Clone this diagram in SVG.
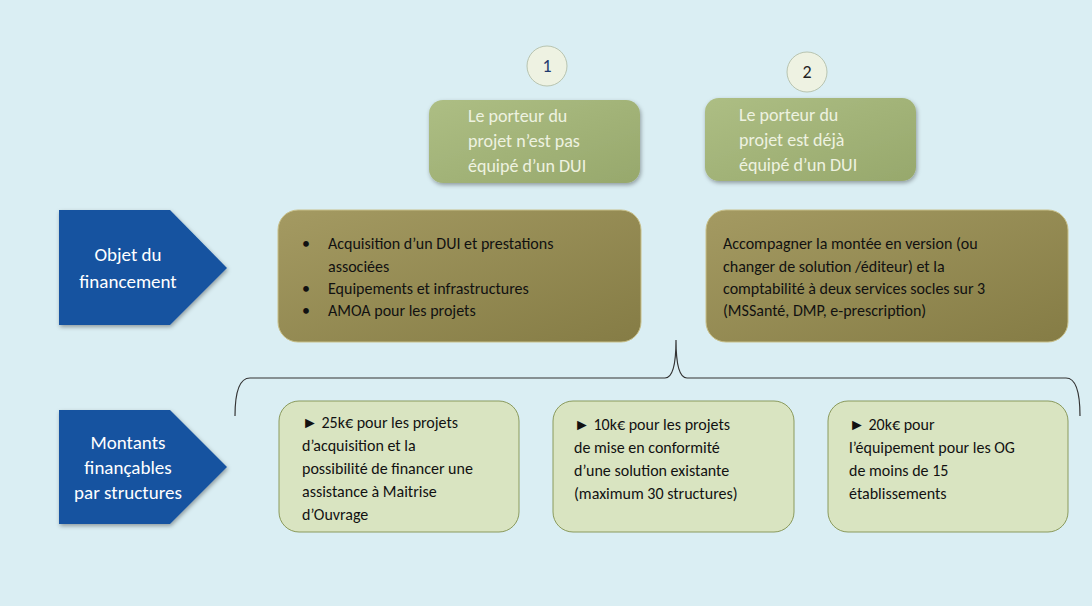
<svg xmlns="http://www.w3.org/2000/svg" width="1092" height="606" viewBox="0 0 1092 606">
<defs>
<linearGradient id="gOlive" x1="0" y1="0" x2="1" y2="1"><stop offset="0" stop-color="#a49a62"/><stop offset="1" stop-color="#857c45"/></linearGradient>
<linearGradient id="gGreen" x1="0" y1="0" x2="1" y2="1"><stop offset="0" stop-color="#adbe84"/><stop offset="1" stop-color="#97a86c"/></linearGradient>
<filter id="sh" x="-10%" y="-10%" width="120%" height="130%"><feDropShadow dx="1" dy="2" stdDeviation="2" flood-opacity="0.35"/></filter>
</defs>
<style>
text{font-family:Carlito,"Liberation Sans",sans-serif;}
.arrow{fill:#1352a0;filter:url(#sh);}
.at{fill:#fff;font-size:19px;text-anchor:middle;}
.top{fill:url(#gGreen);filter:url(#sh);}
.tt{fill:#eef2e0;font-size:18px;}
.ol{fill:url(#gOlive);stroke:#c8c08a;stroke-width:1;}
.ot{fill:#111;font-size:16px;}
.lt{fill:#d9e4c1;stroke:#8a9a5c;stroke-width:1;}
.circ{fill:#eef2e2;stroke:#b8c4b0;stroke-width:1;}
.num{font-size:18px;text-anchor:middle;}
</style>
<rect width="1092" height="606" fill="#daeef3"/>
<g id="connectors"><path d="M235,416 Q235,378 250,378 L665,378 Q676,378 676,340 Q676,378 687,378 L1066,378 Q1080,378 1080,416" fill="none" stroke="#333" stroke-width="1.2"/></g>
<g id="n1"><circle class="circ" cx="547" cy="66" r="20"/><text class="num" x="547" y="72" fill="#1f3a6e">1</text></g>
<g id="n2"><circle class="circ" cx="807" cy="72" r="20"/><text class="num" x="807" y="78" fill="#222">2</text></g>
<g id="top1"><rect class="top" x="429" y="100" width="211" height="83" rx="14"/>
<text class="tt" x="468" y="122">Le porteur du</text><text class="tt" x="468" y="147">projet n’est pas</text><text class="tt" x="468" y="172">équipé d’un DUI</text></g>
<g id="top2"><rect class="top" x="705" y="98" width="211" height="83" rx="14"/>
<text class="tt" x="739" y="121">Le porteur du</text><text class="tt" x="739" y="146">projet est déjà</text><text class="tt" x="739" y="171">équipé d’un DUI</text></g>
<g id="objet"><path class="arrow" d="M59,210 L170,210 L227,268 L170,325 L59,325 Z"/>
<text class="at" x="128" y="261">Objet du</text><text class="at" x="128" y="288">financement</text></g>
<g id="montants"><path class="arrow" d="M59,410 L170,410 L227,467 L170,524 L59,524 Z"/>
<text class="at" x="128" y="449">Montants</text><text class="at" x="128" y="474">finançables</text><text class="at" x="128" y="499">par structures</text></g>
<g id="ob1"><rect class="ol" x="278" y="210" width="363" height="132" rx="20"/>
<text class="ot" x="302" y="249">•</text><text class="ot" x="328" y="249">Acquisition d’un DUI et prestations</text>
<text class="ot" x="328" y="272">associées</text>
<text class="ot" x="302" y="294">•</text><text class="ot" x="328" y="294">Equipements et infrastructures</text>
<text class="ot" x="302" y="316">•</text><text class="ot" x="328" y="316">AMOA pour les projets</text></g>
<g id="ob2"><rect class="ol" x="706" y="210" width="362" height="132" rx="20"/>
<text class="ot" x="723" y="249">Accompagner la montée en version (ou</text>
<text class="ot" x="723" y="272">changer de solution /éditeur) et la</text>
<text class="ot" x="723" y="294">comptabilité à deux services socles sur 3</text>
<text class="ot" x="723" y="316">(MSSanté, DMP, e-prescription)</text></g>
<g id="m1"><rect class="lt" x="279" y="401" width="240" height="131" rx="20"/>
<text class="ot" x="302" y="428">► 25k€ pour les projets</text><text class="ot" x="302" y="451">d’acquisition et la</text>
<text class="ot" x="302" y="474">possibilité de financer une</text><text class="ot" x="302" y="497">assistance à Maitrise</text>
<text class="ot" x="302" y="520">d’Ouvrage</text></g>
<g id="m2"><rect class="lt" x="553" y="401" width="241" height="131" rx="20"/>
<text class="ot" x="574" y="430">► 10k€ pour les projets</text><text class="ot" x="574" y="453">de mise en conformité</text>
<text class="ot" x="574" y="476">d’une solution existante</text><text class="ot" x="574" y="499">(maximum 30 structures)</text></g>
<g id="m3"><rect class="lt" x="828" y="401" width="240" height="131" rx="20"/>
<text class="ot" x="849" y="430">► 20k€ pour</text><text class="ot" x="849" y="453">l’équipement pour les OG</text>
<text class="ot" x="849" y="476">de moins de 15</text><text class="ot" x="849" y="499">établissements</text></g>
</svg>
